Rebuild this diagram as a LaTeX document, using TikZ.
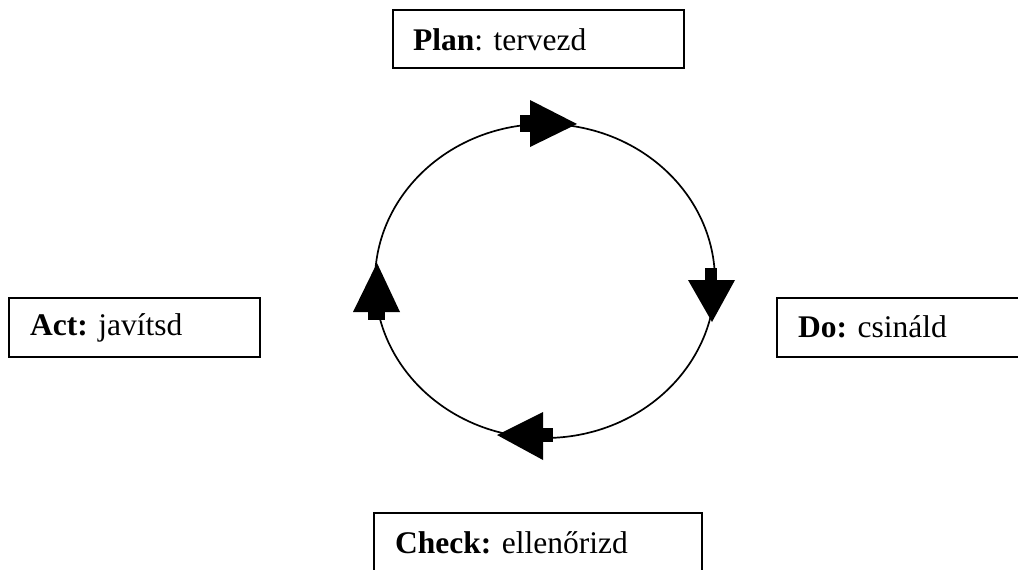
\documentclass[tikz,border=0pt]{standalone}
\usepackage{fontspec}
\setmainfont{Liberation Serif}
\begin{document}
\begin{tikzpicture}[x=1pt,y=-1pt,
  box/.style={draw=black,line width=2pt},
  lbl/.style={anchor=base west,inner sep=0pt,font=\fontsize{31.5}{37}\selectfont},
  head/.style={fill=black,draw=none}]
\useasboundingbox (0,0) rectangle (1018,570);
\clip (0,0) rectangle (1018,570);
% boxes
\draw[box] (393,10) rectangle (684,68);
\draw[box] (777,298) rectangle (1040,357);
\draw[box] (9,298) rectangle (260,357);
\draw[box] (374,513) rectangle (702,600);
% labels
\node[lbl] (plan) at (413,50) {\textbf{Plan}: tervezd};
\node[lbl] (do) at (798,337) {\textbf{Do:} csináld};
\node[lbl] (act) at (30,335) {\textbf{Act:} javítsd};
\node[lbl] (check) at (395,553) {\textbf{Check:} ellenőrizd};
% cycle
\coordinate (c) at (545,281);
\draw[line width=1.7pt] (c) ellipse [x radius=170, y radius=157];
% arrowheads
\fill[head] (520,115) rectangle (531,132);
\fill[head] (530,100) -- (530,147) -- (577,124) -- cycle;
\fill[head] (705,268) rectangle (717,281);
\fill[head] (688,280) -- (735,280) -- (712,322) -- cycle;
\fill[head] (542,428) rectangle (553,442);
\fill[head] (543,412) -- (543,460) -- (497,435) -- cycle;
\fill[head] (368,311) rectangle (385,320);
\fill[head] (353,312) -- (400,312) -- (377,263) -- cycle;
\end{tikzpicture}
\end{document}
